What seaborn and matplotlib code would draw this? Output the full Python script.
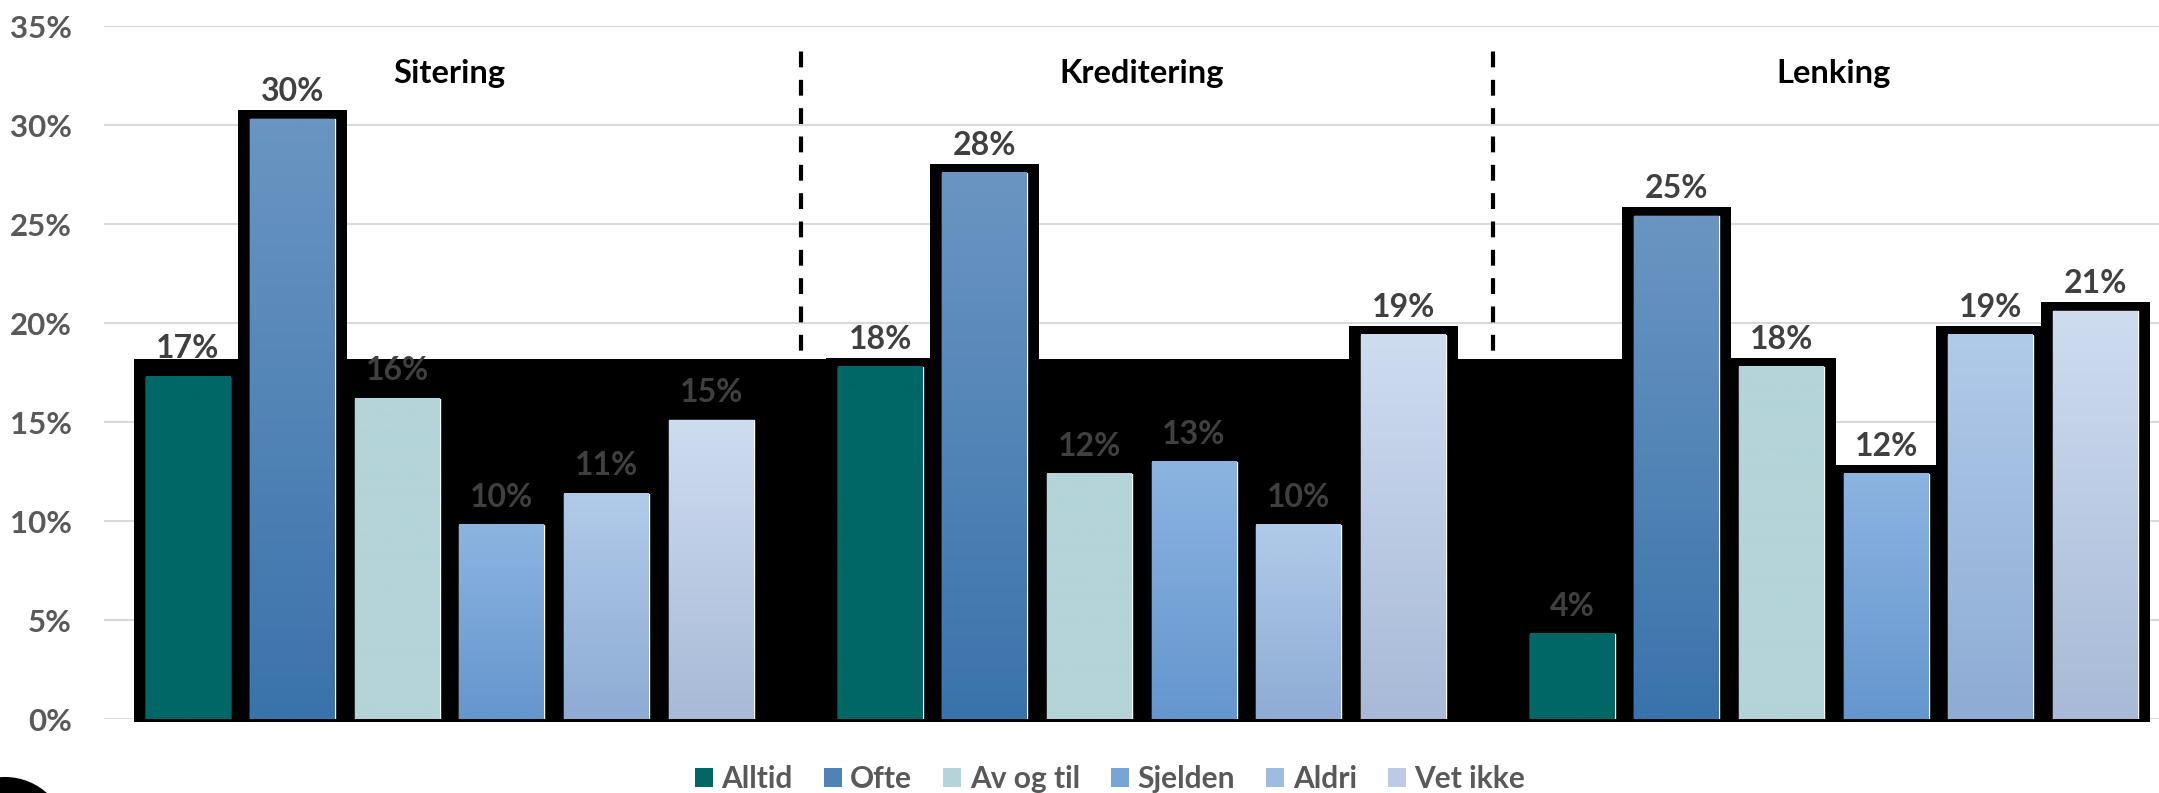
import numpy as np
import pandas as pd
import matplotlib.pyplot as plt
import seaborn as sns
from matplotlib.patches import Rectangle, Ellipse, Patch

# data (percent)
categories = ["Sitering", "Kreditering", "Lenking"]
answers = ["Alltid", "Ofte", "Av og til", "Sjelden", "Aldri", "Vet ikke"]
sitering = [17.3, 30.3, 16.2, 9.8, 11.4, 15.1]
kreditering = [17.8, 27.6, 12.4, 13.0, 9.8, 19.4]
lenking = [4.3, 25.4, 17.8, 12.4, 19.4, 20.6]
yticks = [0, 5, 10, 15, 20, 25, 30, 35]

# gradient colours per answer (top, bottom)
top_colors = ["#006666", "#6a95c2", "#b4d4d9", "#8cb4e1", "#b0cae9", "#cedcf0"]
bottom_colors = ["#006666", "#3a73ab", "#b4d4d9", "#6596ce", "#8eacd4", "#a8bad7"]
backdrop_top = 18.2

rows = []
for cat, vals in zip(categories, [sitering, kreditering, lenking]):
    for ans, v in zip(answers, vals):
        rows.append({"kategori": cat, "svar": ans, "andel": v})
df = pd.DataFrame(rows)

sns.set_style("white")
plt.rcParams["font.family"] = ["Lato", "DejaVu Sans"]
plt.rcParams["font.weight"] = "bold"

W, H = 2159, 793
fig = plt.figure(figsize=(W / 100, H / 100), dpi=100)
ax = fig.add_axes([103.5 / W, 73.7 / H, 2076.5 / W, 693 / H])

sns.barplot(data=df, x="kategori", y="andel", hue="svar", hue_order=answers,
            order=categories, palette=top_colors, saturation=1, width=0.907,
            gap=0.188, legend=False, errorbar=None, ax=ax, zorder=3)

ax.set_xlim(-0.5, 2.5)
ax.set_ylim(0, 35)

px_x = 692.25          # pixels per category
px_y = 19.8            # pixels per percent
dx = 12 / px_x
pad_t = 9 / px_y
pad_b = 2.4 / px_y

ymin = ax.get_ylim()
xlim = ax.get_xlim()
for i, cont in enumerate(ax.containers):
    for j, bar in enumerate(cont.patches):
        x, w, h = bar.get_x(), bar.get_width(), bar.get_height()
        ax.add_patch(Rectangle((x - dx, -pad_b), w + 2 * dx, h + pad_t + pad_b,
                               facecolor="black", edgecolor="none", zorder=2, clip_on=False))
        c1 = np.array(plt.matplotlib.colors.to_rgb(top_colors[i]))
        c2 = np.array(plt.matplotlib.colors.to_rgb(bottom_colors[i]))
        t = np.linspace(0, 1, 64)[:, None]
        grad = (c1 * (1 - t) + c2 * t)[:, None, :]
        ax.imshow(grad, extent=(x, x + w, 0, h), aspect="auto", origin="upper",
                  interpolation="bilinear", zorder=3.5)
        ax.annotate(f"{h:.0f}%", (x + w / 2, h), xytext=(0, 20),
                    textcoords="offset points", ha="center", va="center",
                    fontsize=23, fontweight="bold", color="#404040", zorder=6)

# black backdrop behind the bars
first = ax.containers[0].patches[0]
last = ax.containers[2].patches[2]
left = first.get_x() - dx
right = last.get_x() + last.get_width() + dx
ax.add_patch(Rectangle((left, -pad_b), right - left, backdrop_top + pad_b,
                       facecolor="black", edgecolor="none", zorder=1.5, clip_on=False))

ax.set_xlim(xlim)
ax.set_ylim(ymin)

# group dividers and titles
for b in [0.5, 1.5]:
    ax.vlines(b + 0.008, 0, 34.2, colors="black", linewidth=3,
              linestyles=(0, (3.8, 3.0)), zorder=1)
for j, cat in enumerate(categories):
    ax.text(j, 32.6, cat, ha="center", va="center", fontsize=23.5,
            fontweight="bold", color="black", zorder=6)

ax.set_yticks(yticks)
ax.set_yticklabels([f"{t}%" for t in yticks], fontsize=22.5, fontweight="bold", color="#595959")
ax.tick_params(axis="y", length=0, pad=22.7)
ax.tick_params(axis="x", length=0, labelbottom=False)
ax.set_xlabel("")
ax.set_ylabel("")
ax.yaxis.grid(True, color="#d9d9d9", linewidth=1.5)
ax.xaxis.grid(False)
ax.set_axisbelow(True)
sns.despine(ax=ax, left=True, bottom=True)

handles = [Patch(facecolor=c, edgecolor="none") for c in
           ["#006666", "#4f83b6", "#b4d4d9", "#78a5d8", "#9fbbdf", "#bccbe4"]]
fig.legend(handles, answers, loc="center", bbox_to_anchor=(1110 / W, 1 - 779 / H),
           ncol=6, frameon=False, prop={"size": 21.5, "weight": "bold"},
           labelcolor="#595959", handlelength=0.6, handleheight=0.6,
           handletextpad=0.29, columnspacing=1.04, borderpad=0, borderaxespad=0)

fig.add_artist(Ellipse((5 / W, 1 - 840 / H), 126 / W, 126 / H,
                       transform=fig.transFigure, facecolor="black", edgecolor="none"))

fig.savefig("out.png", dpi=100)
